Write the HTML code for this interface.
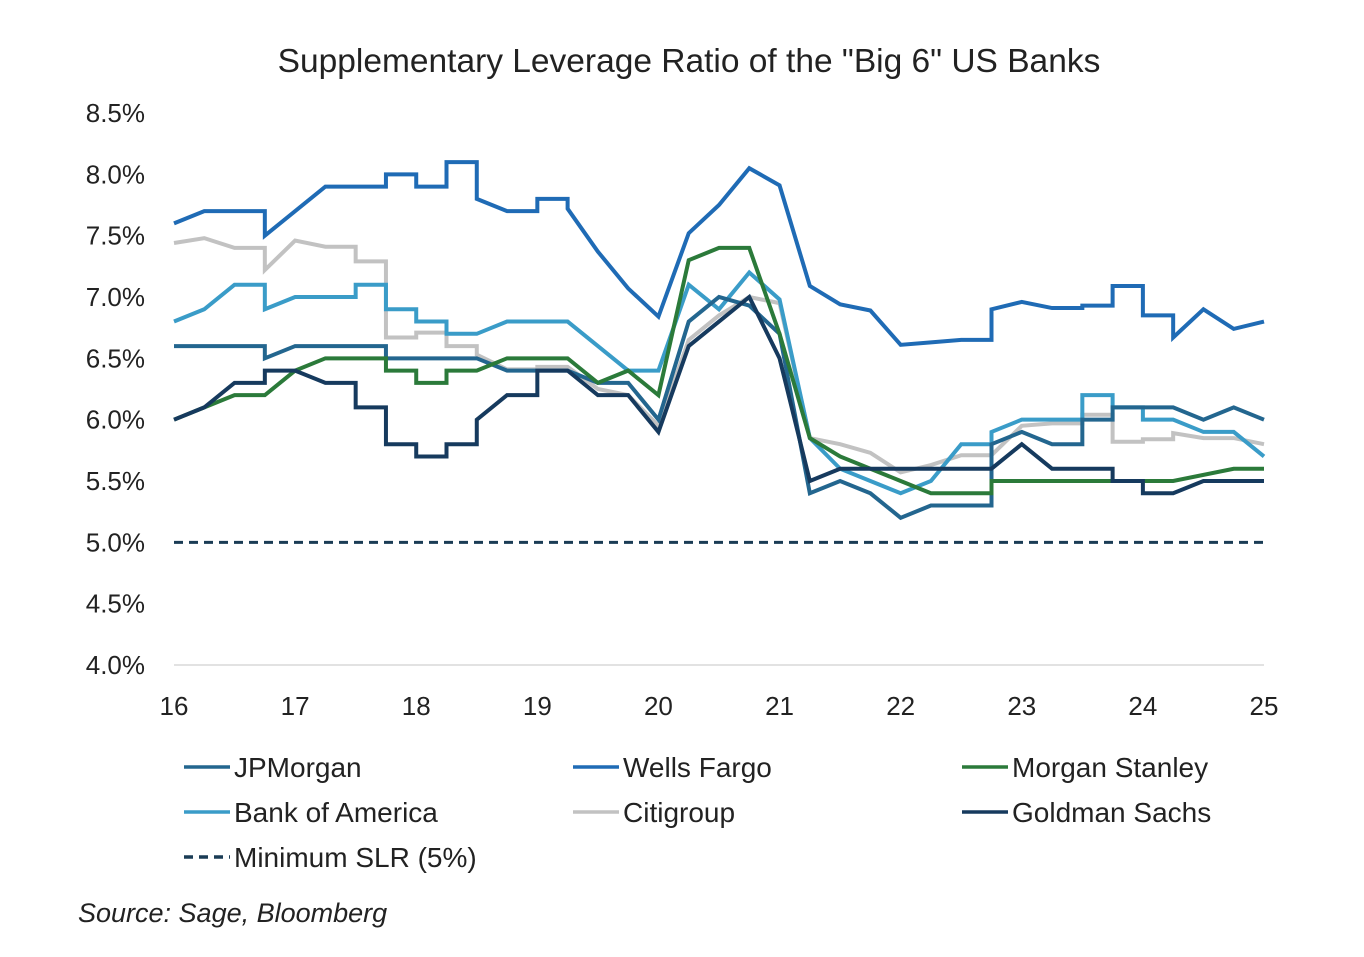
<!DOCTYPE html>
<html><head><meta charset="utf-8"><style>
body{margin:0;background:#fff;}
svg text{font-family:"Liberation Sans",sans-serif;fill:#222;}
</style></head><body>
<svg id="c" width="1364" height="952">
<text x="689" y="72" font-size="33.5" text-anchor="middle">Supplementary Leverage Ratio of the "Big 6" US Banks</text>
<g id="axes"></g><g id="lines"></g><g id="legend"></g>
<text x="78" y="922" font-size="27" font-style="italic" fill="#333">Source: Sage, Bloomberg</text>
</svg>
<script>
const xTicks=[16,17,18,19,20,21,22,23,24,25];
const yTicks=[4.0,4.5,5.0,5.5,6.0,6.5,7.0,7.5,8.0,8.5];
const minimumSLR=5.0;
const jpmX=[16,16.75,16.75,17,17.75,17.75,18.5,18.75,19,19.25,19.5,19.75,20,20.25,20.5,20.75,21,21.25,21.5,21.75,22,22.25,22.75,22.75,23,23.25,23.5,23.5,23.75,23.75,24.25,24.5,24.75,25];
const jpmY=[6.6,6.6,6.5,6.6,6.6,6.5,6.5,6.4,6.4,6.4,6.3,6.3,6.0,6.8,7.0,6.93,6.7,5.4,5.5,5.4,5.2,5.3,5.3,5.8,5.9,5.8,5.8,6.0,6.0,6.1,6.1,6.0,6.1,6.0];
const wfcX=[16,16.25,16.75,16.75,17.25,17.75,17.75,18,18,18.25,18.25,18.5,18.5,18.75,19,19,19.25,19.25,19.5,19.75,20,20.25,20.5,20.75,21,21.25,21.5,21.75,22,22.25,22.5,22.75,22.75,23,23.25,23.5,23.5,23.75,23.75,24,24,24.25,24.25,24.5,24.75,25];
const wfcY=[7.6,7.7,7.7,7.5,7.9,7.9,8.0,8.0,7.9,7.9,8.1,8.1,7.8,7.7,7.7,7.8,7.8,7.72,7.37,7.07,6.84,7.52,7.75,8.05,7.91,7.09,6.94,6.89,6.61,6.63,6.65,6.65,6.9,6.96,6.91,6.91,6.93,6.93,7.09,7.09,6.85,6.85,6.67,6.9,6.74,6.8];
const msX=[16,16.25,16.5,16.75,17,17.25,17.75,17.75,18,18,18.25,18.25,18.5,18.75,19.25,19.5,19.75,20,20.25,20.5,20.75,21,21.25,21.5,22,22.25,22.75,22.75,24.25,24.75,25];
const msY=[6.0,6.1,6.2,6.2,6.4,6.5,6.5,6.4,6.4,6.3,6.3,6.4,6.4,6.5,6.5,6.3,6.4,6.2,7.3,7.4,7.4,6.7,5.85,5.7,5.5,5.4,5.4,5.5,5.5,5.6,5.6];
const bacX=[16,16.25,16.5,16.75,16.75,17,17.5,17.5,17.75,17.75,18,18,18.25,18.25,18.5,18.75,19.25,19.5,19.75,20,20.25,20.5,20.75,21,21.25,21.5,21.75,22,22.25,22.5,22.75,22.75,23,23.5,23.5,23.75,23.75,24,24,24.25,24.5,24.75,25];
const bacY=[6.8,6.9,7.1,7.1,6.9,7.0,7.0,7.1,7.1,6.9,6.9,6.8,6.8,6.7,6.7,6.8,6.8,6.6,6.4,6.4,7.1,6.9,7.2,6.98,5.85,5.6,5.5,5.4,5.5,5.8,5.8,5.9,6.0,6.0,6.2,6.2,6.1,6.1,6.0,6.0,5.9,5.9,5.7];
const citiX=[16,16.25,16.5,16.75,16.75,17,17.25,17.5,17.5,17.75,17.75,18,18,18.25,18.25,18.5,18.5,18.75,19,19,19.25,19.5,19.75,20,20.25,20.5,20.75,21,21.25,21.5,21.75,22,22.25,22.5,22.75,23,23.25,23.5,23.5,23.75,23.75,24,24,24.25,24.25,24.5,24.75,25];
const citiY=[7.44,7.48,7.4,7.4,7.22,7.46,7.41,7.41,7.29,7.29,6.67,6.67,6.71,6.71,6.6,6.6,6.53,6.41,6.41,6.43,6.43,6.25,6.2,5.95,6.65,6.85,7.0,6.95,5.85,5.8,5.73,5.57,5.63,5.71,5.71,5.95,5.97,5.97,6.04,6.04,5.82,5.82,5.84,5.84,5.89,5.85,5.85,5.8];
const gsX=[16,16.25,16.5,16.75,16.75,17,17.25,17.5,17.5,17.75,17.75,18,18,18.25,18.25,18.5,18.5,18.75,19,19,19.25,19.5,19.75,20,20.25,20.5,20.75,21,21.25,21.5,22.75,23,23.25,23.75,23.75,24,24,24.25,24.5,25];
const gsY=[6.0,6.1,6.3,6.3,6.4,6.4,6.3,6.3,6.1,6.1,5.8,5.8,5.7,5.7,5.8,5.8,6.0,6.2,6.2,6.4,6.4,6.2,6.2,5.9,6.6,6.8,7.0,6.5,5.5,5.6,5.6,5.8,5.6,5.6,5.5,5.5,5.4,5.4,5.5,5.5];
const NS="http://www.w3.org/2000/svg";
const X=v=>174+(v-16)*(1090/9);
const Y=v=>665-(v-4)*(552/4.5);
function mk(t,a,p){const e=document.createElementNS(NS,t);for(const k in a)e.setAttribute(k,a[k]);p.appendChild(e);return e;}
const axes=document.getElementById('axes');
const xa=mk('line',{x1:174,x2:1264,y1:665,y2:665,stroke:'#d9d9d9','stroke-width':1.5},axes);


xTicks.forEach(t=>{const e=mk('text',{x:X(t),y:715,'font-size':26,'text-anchor':'middle'},axes);e.textContent=t;

});
yTicks.forEach(t=>{const e=mk('text',{x:145,y:Y(t)+9,'font-size':26,'text-anchor':'end'},axes);e.textContent=t.toFixed(1)+'%';

});
const series=[
['JPMorgan',jpmX,jpmY,'#23668f','',184,767],
['Wells Fargo',wfcX,wfcY,'#1f6bb5','',573,767],
['Morgan Stanley',msX,msY,'#2b7a3a','',962,767],
['Bank of America',bacX,bacY,'#3a9cc8','',184,812],
['Citigroup',citiX,citiY,'#c2c2c2','',573,812],
['Goldman Sachs',gsX,gsY,'#163a5e','',962,812]];
const lines=document.getElementById('lines'),leg=document.getElementById('legend');
const ml=mk('line',{x1:X(16),x2:X(25),y1:Y(minimumSLR),y2:Y(minimumSLR),stroke:'#1a3c55','stroke-width':3,'stroke-dasharray':'9,6'},lines);


const order=[4,3,0,2,5,1];
order.forEach(i=>{const s=series[i];
const p=mk('polyline',{points:s[1].map((x,j)=>X(x)+','+Y(s[2][j])).join(' '),fill:'none',stroke:s[3],'stroke-width':4,'stroke-linejoin':'miter'},lines);

});
series.concat([['Minimum SLR (5%)',null,null,'#1a3c55','dash',184,857]]).forEach(s=>{
const g=mk('g',{},leg);


const a={x1:s[5],x2:s[5]+46,y1:s[6],y2:s[6],stroke:s[3],'stroke-width':3.5};if(s[4])a['stroke-dasharray']='9,6';
mk('line',a,g);
const t=mk('text',{x:s[5]+50,y:s[6]+10,'font-size':28},g);t.textContent=s[0];});
</script>
</body></html>
